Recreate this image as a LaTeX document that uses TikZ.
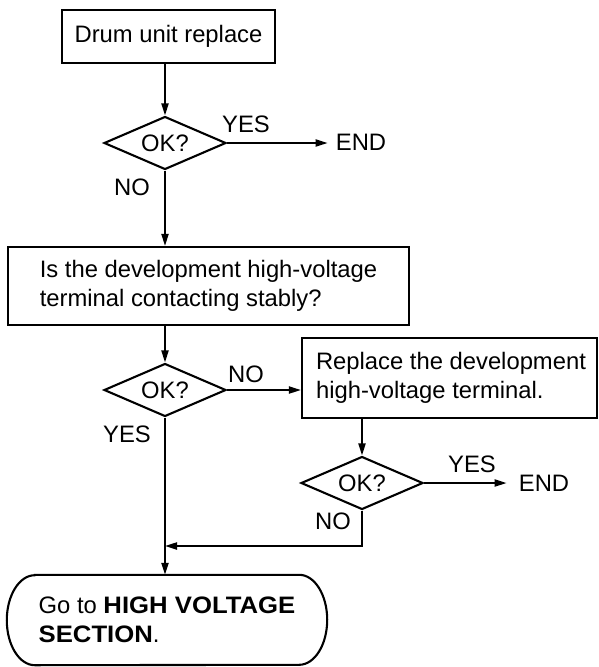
\documentclass[tikz,border=0pt]{standalone}
\usepackage{fontspec}
\setmainfont{Liberation Sans}
\newfontfamily\widebf{Liberation Sans}[FakeStretch=1.08]
\usetikzlibrary{shapes.geometric,arrows.meta,calc}
\begin{document}
\begin{tikzpicture}[x=1pt,y=-1pt,
  every node/.style={font=\fontsize{23.8}{29}\selectfont},
  box/.style={draw,line width=2.1pt,inner sep=0pt},
  dia/.style={draw,diamond,line width=2.1pt,inner sep=0pt,minimum width=122pt,minimum height=53pt,aspect=2.3},
  lbl/.style={inner sep=0pt},
  conn/.style={line width=2.1pt},
  arr/.style={conn,-{Triangle[length=12pt,width=7pt]}}]
\useasboundingbox (0,0) rectangle (598,667);
\node[box,minimum width=213pt,minimum height=53pt] (b1) at (168.5,36.5) {Drum unit replace};
\node[dia] (d1) at (165,143) {OK?};
\node[lbl] (y1) at (246,124) {YES};
\node[lbl] (e1) at (361,142) {END};
\node[lbl] (n1) at (132,187) {NO};
\node[box,minimum width=401pt,minimum height=78pt,align=left] (b2) at (208.5,286) {Is the development high-voltage\\terminal contacting stably?};
\node[dia] (d2) at (165,390) {OK?};
\node[lbl] (n2) at (246,374) {NO};
\node[lbl] (y2) at (127,434) {YES};
\node[box,minimum width=295pt,minimum height=80pt,align=left] (b3) at (449.5,378) {\hspace*{3pt}Replace the development\\\hspace*{3pt}high-voltage terminal.};
\node[dia] (d3) at (362,483) {OK?};
\node[lbl] (y3) at (472,464) {YES};
\node[lbl] (e3) at (544,483) {END};
\node[lbl] (n3) at (333,521) {NO};
\node[inner sep=0pt,minimum width=320pt,minimum height=90pt,align=left] (t) at (167,620) {Go to {\widebf\bfseries HIGH VOLTAGE}\\{\widebf\bfseries SECTION}.};
\draw[line width=2.1pt] ($(t.north west)+(28,0)$) -- ($(t.north east)+(-28,0)$)
  arc[start angle=90,end angle=-90,x radius=28pt,y radius=45pt]
  -- ($(t.south west)+(28,0)$)
  arc[start angle=270,end angle=90,x radius=28pt,y radius=45pt] -- cycle;
\coordinate (j) at (165,546);
\draw[arr] (b1.south -| d1.north) -- (d1.north);
\draw[arr,shorten >=8pt] (d1.east) -- (d1.east -| e1.west);
\draw[arr] (d1.south) -- (b2.north -| d1.south);
\draw[arr] (b2.south -| d2.north) -- (d2.north);
\draw[arr] (d2.east) -- (d2.east -| b3.west);
\draw[arr] (b3.south -| d3.north) -- (d3.north);
\draw[arr,shorten >=12pt] (d3.east) -- (d3.east -| e3.west);
\draw[arr] (d3.south) |- (j);
\draw[arr] (d2.south) -- (t.north -| d2.south);
\end{tikzpicture}
\end{document}
